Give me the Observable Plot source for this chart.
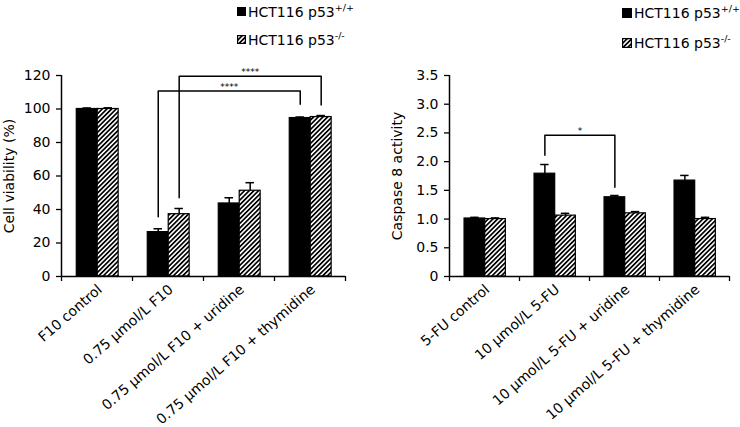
<!DOCTYPE html>
<html><head><meta charset="utf-8">
<script src="https://cdn.jsdelivr.net/npm/d3@7"></script>
<script src="https://cdn.jsdelivr.net/npm/@observablehq/plot@0.6"></script>
<style>
body{margin:0;background:#fff;}
#root{position:relative;width:740px;height:427px;overflow:hidden;font-family:"DejaVu Sans",sans-serif;color:#000;}
.panel{position:absolute;top:0;}
.lg{position:absolute;font-size:14px;line-height:14px;white-space:nowrap;}
.lg sup{font-size:9.5px;line-height:0;vertical-align:6px;}
.sw{position:absolute;box-sizing:border-box;}
</style></head><body>
<svg width="0" height="0" style="position:absolute"><defs>
<pattern id="hatch" patternUnits="userSpaceOnUse" width="3.3" height="3.3" patternTransform="rotate(45)">
<rect width="3.3" height="3.3" fill="white"/><rect width="1.7" height="3.3" fill="black"/></pattern>
</defs></svg>
<div id="root"></div>
<script>
// series (legend)
const seriesNames = ["HCT116 p53", "HCT116 p53"];
const seriesSup = ["+/+", "-/-"];

// left panel: cell viability
const viabilityCategories = ["F10 control", "0.75 µmol/L F10", "0.75 µmol/L F10 + uridine", "0.75 µmol/L F10 + thymidine"];
const viabilityWT = [100, 26.5, 43.6, 94.6];
const viabilityWTErr = [0.6, 2, 3.4, 0.6];
const viabilityKO = [100, 37.2, 51.2, 95.2];
const viabilityKOErr = [0.7, 3.4, 4.8, 0.9];
const viabilityTicks = [0, 20, 40, 60, 80, 100, 120];
// significance brackets: [from category, from series, to category, to series, top, left leg end, right leg end, label]
const viabilitySig = [
  [1, 1, 3, 1, 119.5, 47, 102.4, "****"],
  [1, 0, 3, 0, 110.8, 35.7, 102.8, "****"]
];

// right panel: caspase 8 activity
const caspaseCategories = ["5-FU control", "10 µmol/L 5-FU", "10 µmol/L 5-FU + uridine", "10 µmol/L 5-FU + thymidine"];
const caspaseWT = [1.01, 1.79, 1.38, 1.67];
const caspaseWTErr = [0.02, 0.16, 0.03, 0.09];
const caspaseKO = [1.0, 1.06, 1.10, 1.0];
const caspaseKOErr = [0.02, 0.04, 0.03, 0.03];
const caspaseTicks = [0, 0.5, 1.0, 1.5, 2.0, 2.5, 3.0, 3.5];
const caspaseSig = [
  [1, 0, 2, 0, 2.46, 2.11, 1.555, "*"]
];

const slots = [[0.215, 0.51], [0.51, 0.805]];
const center = (i, s) => i + (slots[s][0] + slots[s][1]) / 2;
const cap = 0.06;

function panel({categories, wt, wtErr, ko, koErr, ticks, fmt, sig, label, width, marginLeft, marginRight}) {
  const rows = categories.flatMap((c, i) => [
    {i, s: 0, v: wt[i], e: wtErr[i]},
    {i, s: 1, v: ko[i], e: koErr[i]}
  ]);
  const pts = sig.flatMap(([a, sa, b, sb, top, ya, yb], k) => [
    {k, x: center(a, sa), y: ya}, {k, x: center(a, sa), y: top},
    {k, x: center(b, sb), y: top}, {k, x: center(b, sb), y: yb}
  ]);
  const n = categories.length;
  return Plot.plot({
    width, height: 427,
    marginTop: 75, marginBottom: 151, marginLeft, marginRight,
    x: {domain: [0, n]},
    y: {domain: [0, ticks[ticks.length - 1]]},
    style: {fontFamily: "DejaVu Sans", fontSize: "14px", color: "black", background: "white"},
    marks: [
      Plot.rectY(rows, {x1: d => d.i + slots[d.s][0], x2: d => d.i + slots[d.s][1], y: "v",
        fill: d => d.s === 0 ? "black" : "url(#hatch)", stroke: "black", strokeWidth: 1.2}),
      Plot.ruleX(rows, {x: d => center(d.i, d.s), y1: "v", y2: d => d.v + d.e, stroke: "black", strokeWidth: 1.5}),
      Plot.ruleY(rows, {y: d => d.v + d.e, x1: d => center(d.i, d.s) - cap, x2: d => center(d.i, d.s) + cap, stroke: "black", strokeWidth: 1.5}),
      Plot.line(pts, {x: "x", y: "y", z: "k", stroke: "black", strokeWidth: 1.5}),
      Plot.text(sig, {x: d => (center(d[0], d[1]) + center(d[2], d[3])) / 2, y: d => d[4], text: d => d[7],
        fontSize: 9, lineAnchor: "bottom", dy: -1}),
      Plot.ruleX([0], {stroke: "black", strokeWidth: 1.5}),
      Plot.ruleY([0], {stroke: "black", strokeWidth: 1.5}),
      Plot.axisY({ticks, tickFormat: fmt, tickSize: 5, tickPadding: 6, strokeWidth: 1.3, fontSize: 14,
        label, labelAnchor: "center", labelArrow: "none", labelOffset: 57}),
      Plot.axisX({ticks: d3.range(n + 1), tickSize: 5, strokeWidth: 1.3, tickFormat: () => "", label: null}),
      Plot.axisX({ticks: d3.range(n).map(i => i + 0.5), tickFormat: d => categories[Math.floor(d)],
        tickSize: 0, tickRotate: -41, tickPadding: 8, dx: 3, dy: 3, fontSize: 14, label: null})
    ]
  });
}

const root = document.getElementById("root");
function place(el, left) { el.classList.add("panel"); el.style.left = left + "px"; root.appendChild(el); }

place(panel({categories: viabilityCategories, wt: viabilityWT, wtErr: viabilityWTErr, ko: viabilityKO, koErr: viabilityKOErr,
  ticks: viabilityTicks, fmt: d => String(d), sig: viabilitySig, label: "Cell viability (%)",
  width: 370, marginLeft: 61, marginRight: 25}), 0);
place(panel({categories: caspaseCategories, wt: caspaseWT, wtErr: caspaseWTErr, ko: caspaseKO, koErr: caspaseKOErr,
  ticks: caspaseTicks, fmt: d => d === 0 ? "0" : d.toFixed(1), sig: caspaseSig, label: "Caspase 8 activity",
  width: 370, marginLeft: 79, marginRight: 11}), 370);

// legends
function legend(x, rowsTop, size) {
  seriesNames.forEach((name, s) => {
    const sw = document.createElement("div");
    sw.className = "sw";
    sw.style.left = x + "px"; sw.style.top = (rowsTop[s] + 1) + "px";
    sw.style.width = size + "px"; sw.style.height = size + "px";
    if (s === 0) sw.style.background = "black";
    else sw.innerHTML = `<svg width="${size}" height="${size}" style="display:block"><rect x="0.6" y="0.6" width="${size-1.2}" height="${size-1.2}" fill="url(#hatch)" stroke="black" stroke-width="1.2"/></svg>`;
    root.appendChild(sw);
    const t = document.createElement("div");
    t.className = "lg";
    t.style.left = (x + size + 2) + "px"; t.style.top = (rowsTop[s] - 1) + "px";
    t.innerHTML = `${name}<sup>${seriesSup[s]}</sup>`;
    root.appendChild(t);
  });
}
legend(237, [6, 34], 9);
legend(622, [7, 37], 10);
</script></body></html>
